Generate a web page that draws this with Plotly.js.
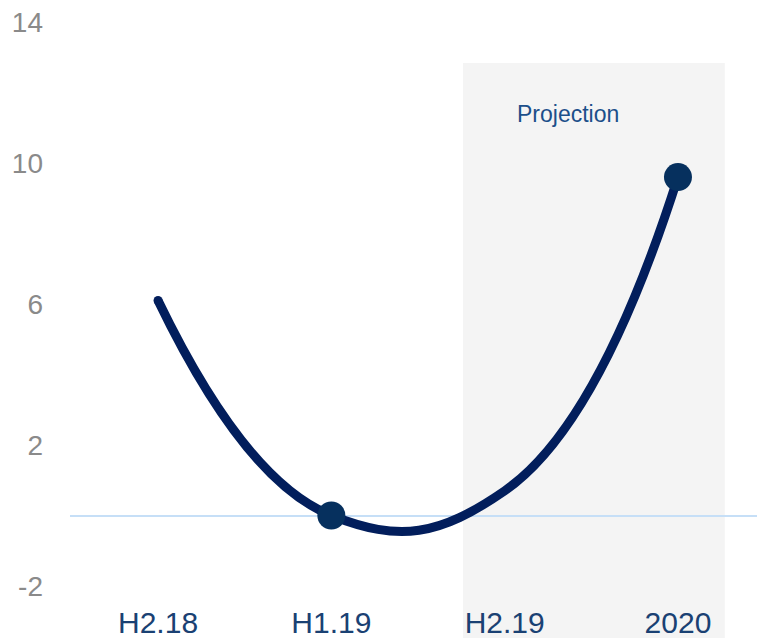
<!DOCTYPE html>
<html>
<head>
<meta charset="utf-8">
<script src="https://cdn.plot.ly/plotly-3.0.1.min.js"></script>
<style>html,body{margin:0;padding:0;background:#fff;}#chart{width:757px;height:638px;}</style>
</head>
<body>
<div id="chart"></div>
<script>
var categories = ["H2.18", "H1.19", "H2.19", "2020"];
var values = [6.1, 0, 0.7, 9.6];
var markerSizes = [9, 28, 0, 28];
var markerColors = ["#021e5c", "#06305e", "#06305e", "#06305e"];
var yTicks = [-2, 2, 6, 10, 14];

var trace = {
  x: [0, 1, 2, 3],
  y: values,
  type: "scatter",
  mode: "lines+markers",
  line: {shape: "spline", smoothing: 1.3, color: "#021e5c", width: 9},
  marker: {size: markerSizes, color: markerColors, opacity: 1, line: {width: 0}},
  hoverinfo: "none"
};

var layout = {
  width: 757, height: 638,
  margin: {l: 70, r: 0, t: 22, b: 52},
  paper_bgcolor: "#ffffff",
  plot_bgcolor: "rgba(0,0,0,0)",
  showlegend: false,
  font: {family: "Arial, 'Liberation Sans', sans-serif"},
  xaxis: {
    range: [-0.508, 3.456],
    tickmode: "array",
    tickvals: [0, 1, 2, 3],
    ticktext: categories,
    showgrid: false, zeroline: false, showline: false, ticks: "",
    tickfont: {size: 30, color: "#1a4173"},
    ticklabelstandoff: 16
  },
  yaxis: {
    range: [-2, 14],
    tickmode: "array",
    tickvals: yTicks,
    ticktext: yTicks.map(String),
    showgrid: false, showline: false, ticks: "",
    zeroline: true, zerolinecolor: "#c6dff7", zerolinewidth: 2,
    tickfont: {size: 28, color: "#8a8a8a"},
    ticklabelstandoff: 26
  },
  shapes: [{
    type: "rect", layer: "below",
    xref: "x", yref: "paper",
    x0: 1.76, x1: 3.27, y0: -0.12, y1: 0.9273,
    fillcolor: "#f4f4f4", line: {width: 0}
  }],
  annotations: [{
    x: 2.366, y: 11.39, xref: "x", yref: "y",
    text: "Projection", showarrow: false,
    font: {size: 23, color: "#1c4f8a"}
  }]
};

Plotly.newPlot("chart", [trace], layout, {displayModeBar: false, staticPlot: true});
</script>
</body>
</html>
